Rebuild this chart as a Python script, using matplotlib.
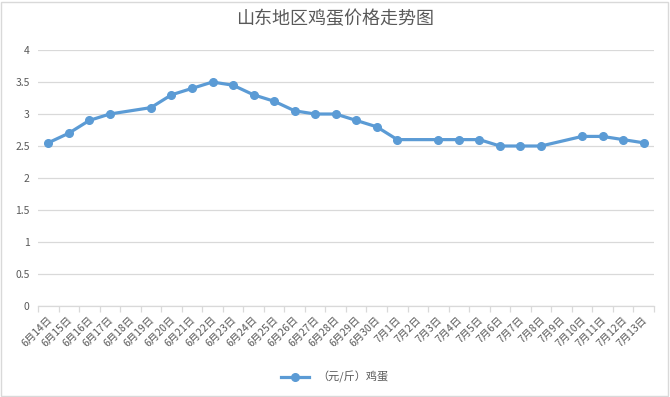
import matplotlib
matplotlib.use("Agg")
import matplotlib.pyplot as plt
import matplotlib.transforms as mtransforms
from matplotlib.patches import Rectangle

plt.rcParams['font.family'] = ['Noto Sans CJK SC', 'DejaVu Sans']

# 日期轴（全部日期）
all_days = ['6月14日', '6月15日', '6月16日', '6月17日', '6月18日', '6月19日', '6月20日',
            '6月21日', '6月22日', '6月23日', '6月24日', '6月25日', '6月26日', '6月27日',
            '6月28日', '6月29日', '6月30日', '7月1日', '7月2日', '7月3日', '7月4日',
            '7月5日', '7月6日', '7月7日', '7月8日', '7月9日', '7月10日', '7月11日',
            '7月12日', '7月13日']

# 有报价的日期及价格（元/斤）
price_days = ['6月14日', '6月15日', '6月16日', '6月17日', '6月19日', '6月20日', '6月21日',
              '6月22日', '6月23日', '6月24日', '6月25日', '6月26日', '6月27日', '6月28日',
              '6月29日', '6月30日', '7月1日', '7月3日', '7月4日', '7月5日', '7月6日',
              '7月7日', '7月8日', '7月10日', '7月11日', '7月12日', '7月13日']
prices = [2.55, 2.7, 2.9, 3.0, 3.1, 3.3, 3.4, 3.5, 3.45, 3.3, 3.2, 3.05, 3.0, 3.0,
          2.9, 2.8, 2.6, 2.6, 2.6, 2.6, 2.5, 2.5, 2.5, 2.65, 2.65, 2.6, 2.55]

y_ticks = [0, 0.5, 1, 1.5, 2, 2.5, 3, 3.5, 4]
y_labels = ['0', '0.5', '1', '1.5', '2', '2.5', '3', '3.5', '4']

text_color = '#595959'
grid_color = '#d9d9d9'

fig = plt.figure(figsize=(6.7, 3.97), dpi=100)
ax = fig.add_axes([0.0567, 0.2292, 0.9193, 0.6448])

xs = [all_days.index(d) for d in price_days]
ax.plot(xs, prices, color='#5b9bd5', linewidth=2.3, marker='o', markersize=5.5,
        label='（元/斤）鸡蛋', zorder=3)

ax.set_xlim(-0.5, len(all_days) - 0.5)
ax.set_ylim(0, 4)
ax.set_yticks(y_ticks)
ax.set_yticklabels(y_labels)
ax.yaxis.grid(True, color=grid_color, linewidth=0.9)
ax.set_axisbelow(True)

for s in ['top', 'right', 'left']:
    ax.spines[s].set_visible(False)
ax.spines['bottom'].set_color(grid_color)
ax.spines['bottom'].set_linewidth(0.9)

ax.set_xticks(range(len(all_days)))
ax.set_xticklabels(all_days, rotation=45, ha='right', va='top')
ax.set_xticks([i - 0.5 for i in range(len(all_days) + 1)], minor=True)
ax.tick_params(axis='x', which='major', length=0, pad=6, labelsize=7.5, labelcolor=text_color)
ax.tick_params(axis='x', which='minor', length=4, color=grid_color, width=0.9)
ax.tick_params(axis='y', length=0, pad=6, labelsize=7.5, labelcolor=text_color)

offset = mtransforms.ScaledTranslation(4 / 72, 0, fig.dpi_scale_trans)
for lbl in ax.get_xticklabels():
    lbl.set_transform(lbl.get_transform() + offset)

fig.suptitle('山东地区鸡蛋价格走势图', x=0.5, y=0.975, fontsize=13, color=text_color)

fig.legend(loc='center', bbox_to_anchor=(0.5, 0.05), frameon=False, fontsize=8,
           labelcolor=text_color, handlelength=2.5)

fig.patches.append(Rectangle((0.002, 0.003), 0.995, 0.993, transform=fig.transFigure,
                             fill=False, edgecolor=grid_color, linewidth=1))

fig.savefig('out.png', dpi=100)
